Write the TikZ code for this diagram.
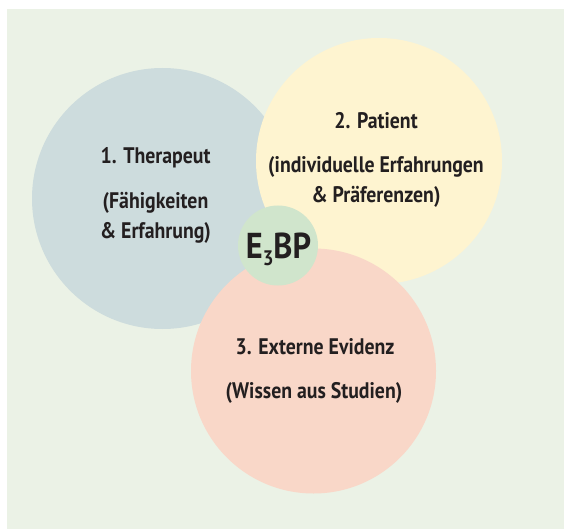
\documentclass[tikz,border=0pt]{standalone}
\usepackage{fontspec}
\setmainfont{PT Sans}[FakeStretch=0.88]
\newfontfamily\ebpfont{PT Sans}[FakeStretch=0.9]
\definecolor{bggreen}{HTML}{EBF2E6}
\definecolor{therablue}{HTML}{CDDCDD}
\definecolor{patyellow}{HTML}{FEF4D0}
\definecolor{evipink}{HTML}{F9D7C8}
\definecolor{ebpgreen}{HTML}{D0E5CC}
\definecolor{inkgray}{HTML}{231F20}
\newcommand{\lowthree}{\raisebox{-0.4ex}{\fontsize{21}{21}\selectfont 3}}
\begin{document}
\begin{tikzpicture}[x=1pt,y=-1pt,
    blob/.style={circle,inner sep=0pt},
    label/.style={text=inkgray,font=\bfseries\fontsize{22.5}{30}\selectfont,align=center,inner sep=0pt}]
            \useasboundingbox (0,0) rectangle (564,529);

            % draw the background
            \fill[bggreen] (7,9) rectangle (564,529);

            % draw the circles
            \node[blob,fill=therablue,minimum size=261pt] (thera) at (162.5,198.5) {};
            \node[blob,fill=patyellow,minimum size=246pt] (pat) at (379,161) {};
            \node[blob,fill=evipink,minimum size=245pt] (evi) at (313.5,371) {};
            \node[blob,fill=ebpgreen,minimum size=80pt] (ebp) at (278,245.5) {};

            % text in the circles
            \node[label] (theratitle) at (155.5,158) {1. Therapeut};
            \node[label] (theratext) at (155.5,218) {(Fähigkeiten\\\& Erfahrung)};
            \node[label] (pattitle) at (376,121) {2. Patient};
            \node[label] (pattext) at (376,182) {(individuelle Erfahrungen\\\& Präferenzen)};
            \node[label] (evititle) at (315,347) {3. Externe Evidenz};
            \node[label] (evitext) at (314,393) {(Wissen aus Studien)};
            \node[label,font=\ebpfont\bfseries\fontsize{36}{36}\selectfont] (ebptext) at (278.5,249) {E\lowthree BP};
        \end{tikzpicture}
\end{document}
